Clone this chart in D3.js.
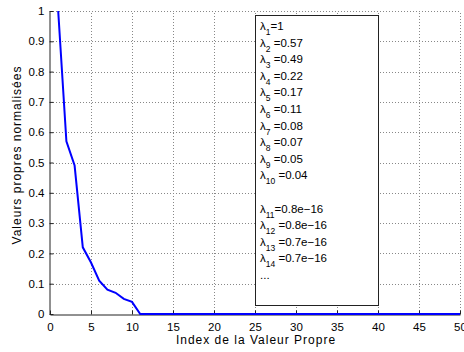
<!DOCTYPE html>
<html>
<head>
<meta charset="utf-8">
<script src="https://cdn.jsdelivr.net/npm/d3@7"></script>
<style>
  body { margin: 0; background: #fff; }
  svg { font-family: "Liberation Sans", Arial, sans-serif; }
</style>
</head>
<body>
<div id="chart"></div>
<script>
// eigenvalue index and normalised values (11..50 are ~0)
const indices = d3.range(1, 51);
const values = [1, 0.57, 0.49, 0.22, 0.17, 0.11, 0.08, 0.07, 0.05, 0.04]
    .concat(d3.range(40).map(() => 0));
const xTicks = [0, 5, 10, 15, 20, 25, 30, 35, 40, 45, 50];
const yTicks = [0, 0.1, 0.2, 0.3, 0.4, 0.5, 0.6, 0.7, 0.8, 0.9, 1];

// legend text lines: [subscript, value]; null = blank line
const legendLines = [
    ["1", "=1"], ["2", " =0.57"], ["3", " =0.49"], ["4", " =0.22"], ["5", " =0.17"],
    ["6", " =0.11"], ["7", " =0.08"], ["8", " =0.07"], ["9", " =0.05"], ["10", " =0.04"],
    null,
    ["11", "=0.8e\u221216"], ["12", " =0.8e\u221216"], ["13", " =0.7e\u221216"], ["14", " =0.7e\u221216"]
];

const width = 464, height = 352;
const svg = d3.select("#chart").append("svg")
    .attr("width", width)
    .attr("height", height);

const x = d3.scaleLinear().domain([0, 50]).range([50, 460]);
const y = d3.scaleLinear().domain([0, 1]).range([314, 11]);

// dotted grid
const grid = svg.append("g")
    .attr("stroke", "#888")
    .attr("stroke-width", 1)
    .attr("stroke-dasharray", "1,2");
grid.selectAll(".gx").data(xTicks.slice(1))
    .enter().append("line")
    .attr("x1", d => Math.round(x(d)) + 0.5).attr("x2", d => Math.round(x(d)) + 0.5)
    .attr("y1", y(0)).attr("y2", y(1));
grid.selectAll(".gy").data(yTicks.slice(1))
    .enter().append("line")
    .attr("x1", x(0)).attr("x2", x(50))
    .attr("y1", d => Math.round(y(d)) + 0.5).attr("y2", d => Math.round(y(d)) + 0.5);

// axes, ticks pointing inward like matlab
const xAxis = svg.append("g")
    .attr("transform", `translate(0,${Math.round(y(0)) + 0.5})`)
    .call(d3.axisBottom(x).tickValues(xTicks).tickSizeInner(-4).tickSizeOuter(0).tickPadding(8));
const yAxis = svg.append("g")
    .attr("transform", `translate(${Math.round(x(0)) - 0.5},0)`)
    .call(d3.axisLeft(y).tickValues(yTicks).tickSizeInner(-4).tickSizeOuter(0).tickPadding(5)
        .tickFormat(d => d3.format("")(+d.toFixed(1))));
[xAxis, yAxis].forEach(a => {
    a.select(".domain").attr("stroke", "#222");
    a.selectAll(".tick line").attr("stroke", "#222");
    a.selectAll(".tick text").attr("fill", "#000").style("font-size", "11.5px");
});

// legend box (text annotation)
const boxX0 = x(25), boxX1 = x(40);
svg.append("rect")
    .attr("x", Math.round(boxX0) + 0.5).attr("y", 15.5)
    .attr("width", Math.round(boxX1 - boxX0)).attr("height", 290)
    .attr("fill", "#fff").attr("stroke", "#222").attr("stroke-width", 1);

const lineH = 16.6;
const legend = svg.append("g").style("font-size", "11.5px").attr("fill", "#000");
legendLines.forEach((l, i) => {
    if (!l) return;
    const t = legend.append("text")
        .attr("x", 260)
        .attr("y", 30 + i * lineH);
    t.append("tspan").text("\u03bb");
    t.append("tspan").attr("dy", 5).style("font-size", "8.5px").text(l[0]);
    t.append("tspan").attr("dy", -5).text(l[1]);
});
legend.append("text")
    .attr("x", 260).attr("y", 30 + 15 * lineH)
    .text("...");

// eigenvalue curve
svg.append("path")
    .datum(indices.map((d, i) => [d, values[i]]))
    .attr("fill", "none")
    .attr("stroke", "#0000ff")
    .attr("stroke-width", 2)
    .attr("d", d3.line().x(d => x(d[0])).y(d => y(d[1])));

// axis titles
svg.append("text")
    .attr("x", 256).attr("y", 344)
    .attr("text-anchor", "middle")
    .style("font-size", "12px")
    .style("letter-spacing", "1px")
    .text("Index de la Valeur Propre");
svg.append("text")
    .attr("transform", "translate(21,155) rotate(-90)")
    .attr("text-anchor", "middle")
    .style("font-size", "12px")
    .style("letter-spacing", "1px")
    .text("Valeurs propres normalisées");
</script>
</body>
</html>
